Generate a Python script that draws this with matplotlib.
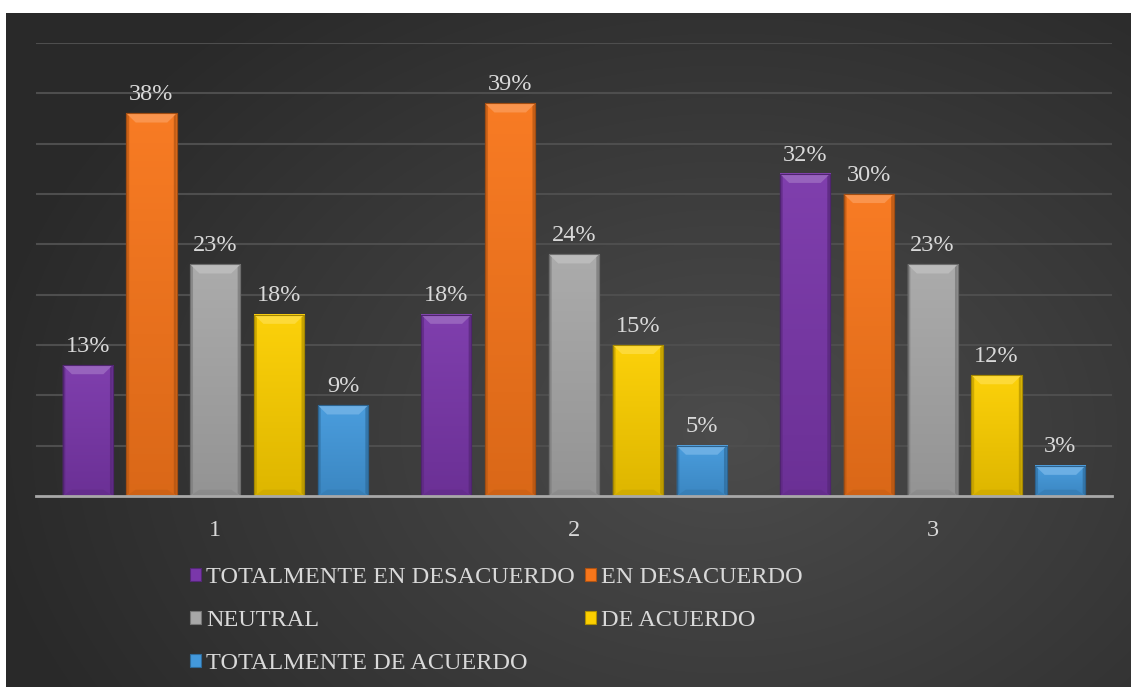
import numpy as np
import matplotlib
matplotlib.use("Agg")
import matplotlib.pyplot as plt
import matplotlib.colors as mcolors
from matplotlib.patches import Polygon, Rectangle

categories = ["1", "2", "3"]
series = ["TOTALMENTE EN DESACUERDO", "EN DESACUERDO", "NEUTRAL",
          "DE ACUERDO", "TOTALMENTE DE ACUERDO"]
values = {
    "TOTALMENTE EN DESACUERDO": [13, 18, 32],
    "EN DESACUERDO": [38, 39, 30],
    "NEUTRAL": [23, 24, 23],
    "DE ACUERDO": [18, 15, 12],
    "TOTALMENTE DE ACUERDO": [9, 5, 3],
}
colors = {
    "TOTALMENTE EN DESACUERDO": "#7a37aa",
    "EN DESACUERDO": "#f8761b",
    "NEUTRAL": "#a8a8a8",
    "DE ACUERDO": "#fccf00",
    "TOTALMENTE DE ACUERDO": "#4399dc",
}

SERIF = "Liberation Serif"
TXT = "#d9d9d9"
FS = 17.5
W, H = 1131, 687


def shade(c, f):
    r = np.array(mcolors.to_rgb(c))
    if f < 1:
        return np.clip(r * f, 0, 1)
    return r + (1 - r) * (f - 1)


fig = plt.figure(figsize=(W / 100, H / 100), dpi=100)
fig.patch.set_facecolor("white")

# dark radial-gradient panel behind the chart
bg = fig.add_axes([6 / W, 0, (W - 6) / W, (H - 13) / H])
bg.set_axis_off()
yy, xx = np.mgrid[0:674, 0:1125]
r = np.hypot((xx - 720) / 760, (yy - 420) / 560)
r = np.clip(r, 0, 1)
lo, hi = np.array(mcolors.to_rgb("#4c4c4c")), np.array(mcolors.to_rgb("#292929"))
img = lo[None, None, :] * (1 - r[..., None]) + hi[None, None, :] * r[..., None]
bg.imshow(img, aspect="auto", extent=[0, 1, 0, 1], origin="upper")
bg.set_xlim(0, 1); bg.set_ylim(0, 1)

ax = fig.add_axes([36 / W, (H - 496) / H, (1112 - 36) / W, (496 - 43) / H])
ax.set_facecolor("none")

pitch, width = 0.178, 0.14
bx, by = 0.026, 0.9   # bevel size in data units (~9 px)
x = np.arange(1, len(categories) + 1)

for i, s in enumerate(series):
    c = colors[s]
    xs = x + (i - 2) * pitch
    bars = ax.bar(xs, values[s], width, color=c, edgecolor=shade(c, 0.7), lw=0.8, zorder=3)
    for b, v in zip(bars, values[s]):
        x0, x1, h = b.get_x(), b.get_x() + b.get_width(), b.get_height()
        grad = np.linspace(shade(c, 0.88), shade(c, 1.04), 64)[:, None, :]
        ax.imshow(grad, extent=[x0, x1, 0, h], origin="lower", aspect="auto", zorder=3.1)
        # bevelled top, side edges and bottom
        ax.add_patch(Polygon([(x0, h), (x1, h), (x1 - bx, h - by), (x0 + bx, h - by)],
                             closed=True, fc=shade(c, 1.22), ec="none", zorder=3.2))
        ax.add_patch(Polygon([(x0, h), (x0 + bx * 0.3, h - by * 0.3), (x0 + bx * 0.3, by * 0.3), (x0, 0)],
                             closed=True, fc=shade(c, 0.75), ec="none", alpha=0.7, zorder=3.2))
        ax.add_patch(Polygon([(x1, h), (x1 - bx * 0.3, h - by * 0.3), (x1 - bx * 0.3, by * 0.3), (x1, 0)],
                             closed=True, fc=shade(c, 0.7), ec="none", alpha=0.7, zorder=3.2))
        ax.add_patch(Polygon([(x0, 0), (x1, 0), (x1 - bx, by * 0.7), (x0 + bx, by * 0.7)],
                             closed=True, fc=shade(c, 0.82), ec="none", alpha=0.8, zorder=3.2))
        ax.add_patch(Rectangle((x0, 0), x1 - x0, h, fc="none", ec=shade(c, 0.65), lw=0.8, zorder=3.3))
        ax.annotate(f"{v}%", (b.get_x() + b.get_width() / 2, h), xytext=(0, 6),
                    textcoords="offset points", ha="center", va="bottom",
                    fontsize=FS, family=SERIF, color=TXT, zorder=4)

ax.set_xlim(0.5, 3.5)
ax.set_ylim(0, 45)
ax.set_yticks(np.arange(5, 46, 5))
ax.set_yticklabels([])
ax.tick_params(axis="y", length=0)
ax.yaxis.grid(True, color="#4e4e4e", lw=1.5, zorder=0)
ax.set_axisbelow(True)
ax.set_xticks(x)
ax.set_xticklabels(categories, fontsize=FS, family=SERIF, color=TXT)
ax.tick_params(axis="x", length=0, pad=17)
for sp in ["top", "left", "right"]:
    ax.spines[sp].set_visible(False)
ax.spines["bottom"].set_color("#a8a8a8")
ax.spines["bottom"].set_linewidth(2)
ax.spines["bottom"].set_zorder(5)

# legend laid out row by row: reorder so column fill matches rows
order = [0, 2, 4, 1, 3]
handles = [Rectangle((0, 0), 1, 1, fc=colors[series[k]], ec=shade(colors[series[k]], 0.7), lw=0.8)
           for k in order]
leg = fig.legend(handles, [series[k] for k in order], ncol=2, loc="upper left",
                 bbox_to_anchor=(190 / W, 1 - 567 / H), frameon=False,
                 prop={"family": SERIF, "size": FS}, handlelength=0.45, handleheight=0.45,
                 handletextpad=0.2, columnspacing=0.45, labelspacing=0.9,
                 borderpad=0, borderaxespad=0)
for t in leg.get_texts():
    t.set_color(TXT)

fig.savefig("out.png", dpi=100)
